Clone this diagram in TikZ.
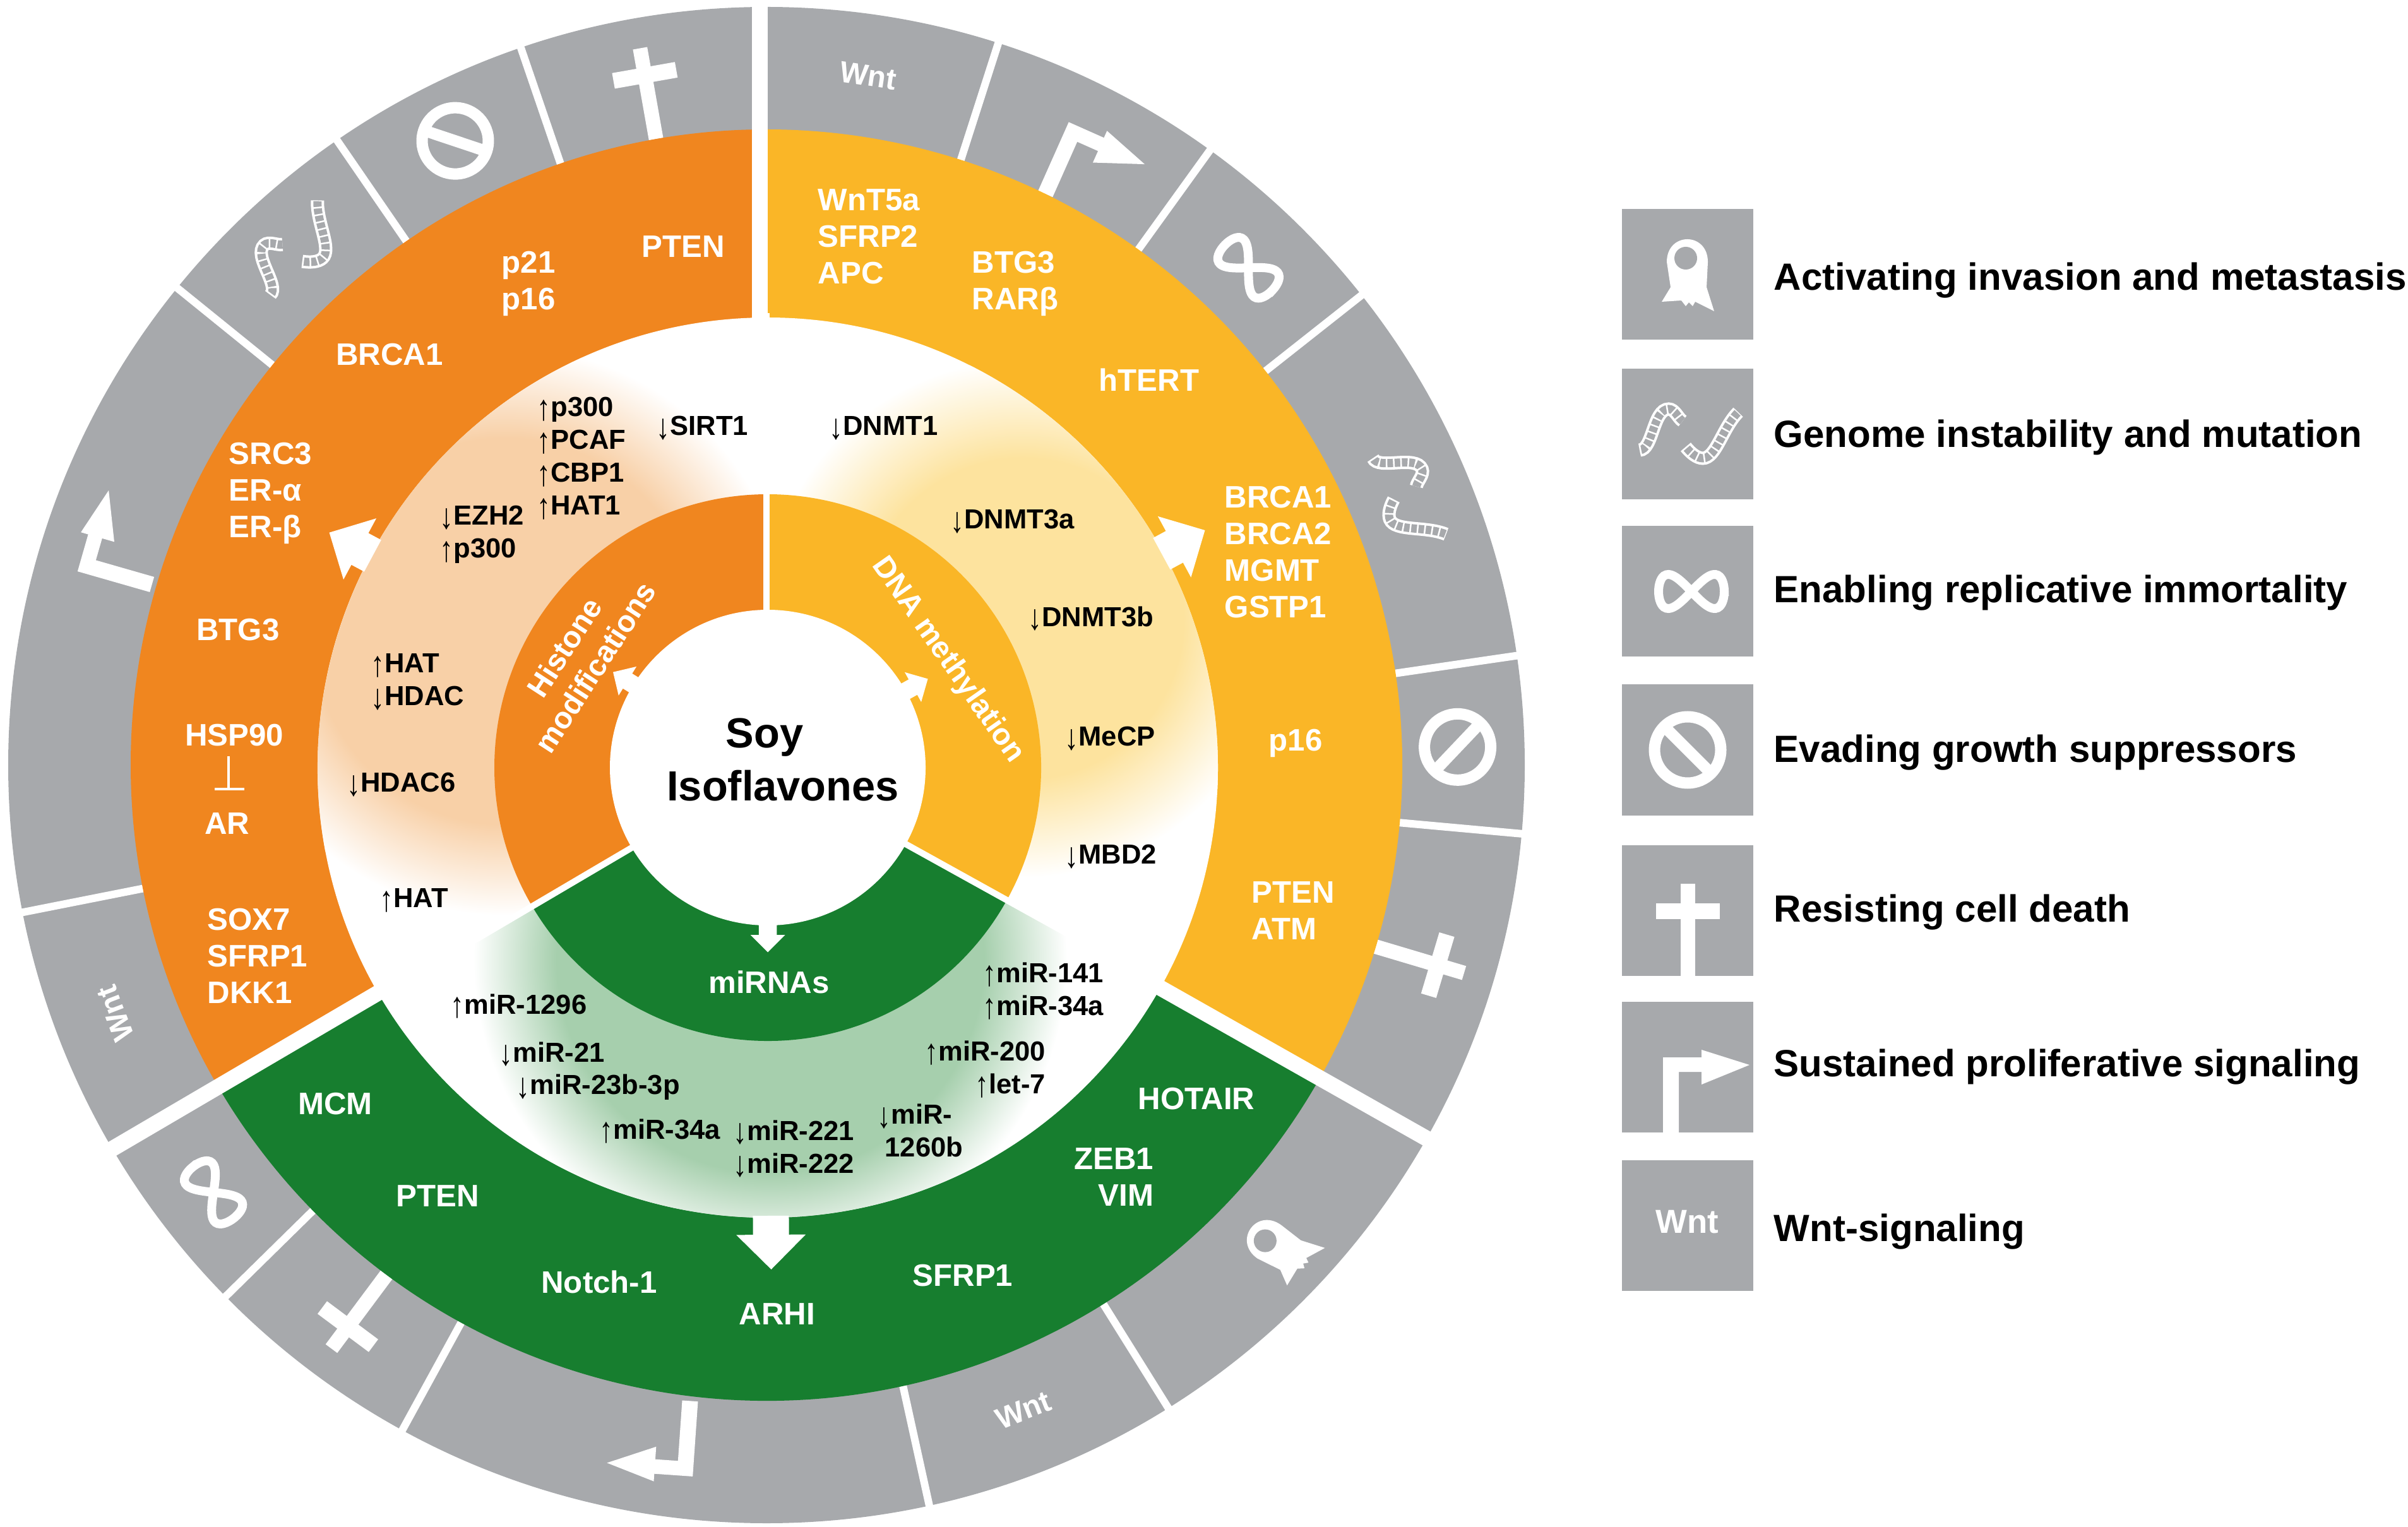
\documentclass[tikz,border=0pt]{standalone}
\usepackage{fontspec}
\setmainfont{Liberation Sans}

\definecolor{orangeRing}{HTML}{F0861F}
\definecolor{yellowRing}{HTML}{FAB627}
\definecolor{greenRing}{HTML}{177E2F}
\definecolor{greyRing}{HTML}{A7A9AC}
\definecolor{paleOrange}{HTML}{F8D0A7}
\definecolor{paleYellow}{HTML}{FDE39E}
\definecolor{paleGreen}{HTML}{A6CFAD}

\pgfdeclareradialshading{orangeblob}{\pgfpoint{0bp}{0bp}}{color(0bp)=(paleOrange); color(17bp)=(paleOrange); color(25bp)=(white); color(50bp)=(white)}
\pgfdeclareradialshading{yellowblob}{\pgfpoint{0bp}{0bp}}{color(0bp)=(paleYellow); color(15.5bp)=(paleYellow); color(25bp)=(white); color(50bp)=(white)}
\pgfdeclareradialshading{greenblob}{\pgfpoint{0bp}{0bp}}{color(0bp)=(paleGreen); color(18bp)=(paleGreen); color(25bp)=(white); color(50bp)=(white)}

\newcommand{\upa}{{\mdseries\raisebox{-.25ex}{\scalebox{1}[1.3]{↑}}}}
\newcommand{\dna}{{\mdseries\raisebox{-.25ex}{\scalebox{1}[1.3]{↓}}}}
\newcommand{\spoke}[4]{\fill[white,rotate=#1] (-#4*.285,#2) -- (-#4*.285,#3) -- (-#4*.55,#3) -- (0,#3+#4*.55) -- (#4*.55,#3) -- (#4*.285,#3) -- (#4*.285,#2) -- cycle;}
\newcommand{\strand}[1]{
	\draw[white,line width=.21cm] #1;
	\draw[greyRing,line width=.13cm] #1;
	\draw[white,line width=.14cm,dash pattern=on .025cm off .09cm] #1;
}

\tikzset{
	ringpart/.style n args={4}{insert path={(#1:#3) arc[start angle=#1,end angle=#2,radius=#3] -- (#2:#4) arc[start angle=#2,end angle=#1,radius=#4] -- cycle}},
	gene/.style={text=white,inner sep=0pt,align=left,font=\fontsize{14}{16.5}\selectfont\bfseries},
	target/.style={text=black,inner sep=0pt,align=left,yshift=-.03cm,font=\fontsize{12.4}{14.8}\selectfont\bfseries},
	wntmark/.style={text=white,inner sep=0pt,font=\fontsize{13.5}{16}\selectfont\bfseries},
	legendbox/.style={fill=greyRing,minimum width=2.08cm,minimum height=2.07cm,inner sep=0pt},
	legendtext/.style={text=black,inner sep=0pt,anchor=west,font=\fontsize{17.1}{20}\selectfont\bfseries},
	sepline/.style={draw=white,line width=.12cm},
	crossicon/.pic={
		\fill[white] (-.115,-1.04) rectangle (.115,.42);
		\fill[white] (-.505,-.14) rectangle (.505,.11);
	},
	stopicon/.pic={
		\draw[white,line width=.18cm] (0,0) circle (.525);
		\draw[white,line width=.18cm] (135:.525) -- (-45:.525);
	},
	infinityicon/.pic={
		\draw[white,line width=.14cm] plot[domain=0:360,samples=60,smooth] ({.52*cos(\x)},{.27*sin(2*\x)}) -- cycle;
	},
	growthicon/.pic={
		\fill[white] (-.39,-1.04) -- (-.39,.15) -- (.22,.15) -- (.22,.27) -- (.98,.03) -- (.22,-.28) -- (.22,-.08) -- (-.14,-.08) -- (-.14,-1.04) -- cycle;
	},
	cellicon/.pic={
		\fill[white] (-.41,-.43) -- (-.27,-.2) -- (-.33,.2) .. controls (-.33,.68) and (.32,.68) .. (.32,.2) -- (.3,-.2) -- (.42,-.58) -- (.12,-.43) -- (.08,-.5) -- (.02,-.44) -- (-.03,-.5) -- (-.1,-.41) -- cycle;
		\fill[greyRing] (-.03,.26) circle (.18);
	},
	dnaicon/.pic={
		\strand{(-.76,-.25) .. controls (-.55,-.25) and (-.55,.4) .. (-.3,.4) .. controls (-.2,.4) and (-.15,.25) .. (-.08,.21)}
		\strand{(-.03,-.2) .. controls (.05,-.3) and (.15,-.38) .. (.24,-.38) .. controls (.45,-.38) and (.55,.1) .. (.8,.35)}
	}
}

\begin{document}
\begin{tikzpicture}
	\useasboundingbox (0,0) rectangle (38.14,24.18);

	% outer grey ring with the hallmark icons
	\begin{scope}[shift={(12.14,12.06)}]
		\fill[greyRing] (0,0) circle (12.01);

		\pic[rotate=10] at (100:11.11) {crossicon};
		\pic[rotate=26.5] at (116.5:11.05) {stopicon};
		\pic[rotate=42.5] at (132.5:11.05) {dnaicon};
		\pic[rotate=74] at (162.3:11.19) {growthicon};
		\node[wntmark,rotate=110.9] (WntLeft) at (200.9:11.04) {Wnt};
		\pic[rotate=127.7] at (217.7:11.07) {infinityicon};
		\pic[rotate=143.3] at (233.3:11.11) {crossicon};
		\pic[rotate=176] at (262.06:11.2) {growthicon};
		\node[wntmark,rotate=21.7] (WntBottom) at (-68.3:11.0) {Wnt};
		\pic[rotate=55] at (-43.3:11.17) {cellicon};
		\pic[rotate=-106.6] at (-16.6:11.11) {crossicon};
		\pic[rotate=-88.5] at (1.5:10.95) {stopicon};
		\pic[rotate=-67.2] at (22.8:10.99) {dnaicon};
		\pic[rotate=-44.1] at (45.9:10.97) {infinityicon};
		\pic[rotate=-24] at (62.8:11.12) {growthicon};
		\node[wntmark,rotate=-8.4] (WntTop) at (81.6:11.04) {Wnt};

		\draw[sepline] (108.9:10) -- (108.9:12.1);
		\draw[sepline] (124.5:10) -- (124.5:12.1);
		\draw[sepline] (141:10) -- (141:12.1);
		\draw[sepline] (191.2:10) -- (191.2:12.1);
		\draw[sepline] (224.5:10) -- (224.5:12.1);
		\draw[sepline] (241.3:10) -- (241.3:12.1);
		\draw[sepline] (-77.6:10) -- (-77.6:12.1);
		\draw[sepline] (-58:10) -- (-58:12.1);
		\draw[sepline] (-5.2:10) -- (-5.2:12.1);
		\draw[sepline] (8.3:10) -- (8.3:12.1);
		\draw[sepline] (38.3:10) -- (38.3:12.1);
		\draw[sepline] (54.2:10) -- (54.2:12.1);
		\draw[sepline] (72.2:10) -- (72.2:12.1);

		% gene ring
		\fill[orangeRing] (0,0) -- (90:10.07) arc[start angle=90,end angle=210.4,radius=10.07] -- cycle;
		\fill[yellowRing] (0,0) -- (-29.5:10.07) arc[start angle=-29.5,end angle=90,radius=10.07] -- cycle;
		\fill[greenRing] (0,0) -- (210.4:10.07) arc[start angle=210.4,end angle=330.5,radius=10.07] -- cycle;
	\end{scope}

	% epigenetic targets and inner ring
	\begin{scope}[shift={(12.16,12.02)}]
		\fill[white] (0,0) circle (7.13);
		\begin{scope}
			\clip[ringpart={90}{210.4}{4.3}{7.13}];
			\shade[shading=orangeblob] (-4.16,2.16) circle (4.5);
		\end{scope}
		\begin{scope}
			\clip[ringpart={-29.5}{90}{4.3}{7.13}];
			\shade[shading=yellowblob] (4.04,2.36) circle (4.1);
		\end{scope}
		\begin{scope}
			\clip[ringpart={210.4}{330.5}{4.3}{7.13}];
			\shade[shading=greenblob] (.04,-3.04) circle (4.7);
		\end{scope}

		\fill[orangeRing] (0,0) -- (90:4.33) arc[start angle=90,end angle=210.4,radius=4.33] -- cycle;
		\fill[yellowRing] (0,0) -- (-29.5:4.33) arc[start angle=-29.5,end angle=90,radius=4.33] -- cycle;
		\fill[greenRing] (0,0) -- (210.4:4.33) arc[start angle=210.4,end angle=330.5,radius=4.33] -- cycle;
		\fill[white] (0,0) circle (2.5);

		\draw[white,line width=.1cm] (-.02,2.4) -- (-.02,7.2);
		\draw[white,line width=.1cm] (-29:2.4) -- (-29:5.6);
		\draw[white,line width=.1cm] (210.5:2.4) -- (210.5:5.6);
	\end{scope}

	% wide gaps between the three sectors
	\begin{scope}[shift={(12.14,12.06)}]
		\draw[white,line width=.25cm] (-.11,7) -- (-.11,12.3);
		\draw[white,line width=.25cm] (-29.5:7) -- (-29.5:12.3);
		\draw[white,line width=.25cm] (210.4:7) -- (210.4:12.3);
	\end{scope}

	\begin{scope}[shift={(12.16,12.02)}]
		\spoke{61.8}{7.1}{7.33}{1}
		\spoke{-61.5}{7.1}{7.33}{1}
		\spoke{-179.6}{7.1}{7.4}{1}
		\spoke{58.3}{2.4}{2.61}{.49}
		\spoke{-61}{2.4}{2.63}{.49}
		\spoke{180}{2.4}{2.65}{.5}
	\end{scope}

	\node[font=\fontsize{19}{22}\selectfont\bfseries,inner sep=0pt] (Soy) at (12.11,12.50) {Soy};
	\node[font=\fontsize{19}{22}\selectfont\bfseries,inner sep=0pt] (Isoflavones) at (12.40,11.73) {Isoflavones};

	\node[gene,rotate=57,align=center,font=\fontsize{13.6}{16.5}\selectfont\bfseries] (Histone) at (9.18,13.77) {Histone\\modifications};
	\node[gene,rotate=-55,font=\fontsize{13.6}{16.5}\selectfont\bfseries] (Methylation) at (15.01,13.72) {DNA methylation};
	\node[gene] (MiRNAs) at (12.18,8.62) {miRNAs};

	% histone genes
	\node[gene] (PTENhist) at (10.82,20.27) {PTEN};
	\node[gene] (PhistGroup) at (8.37,19.69) {p21\\p16};
	\node[gene] (BRCAhist) at (6.17,18.56) {BRCA1};
	\node[gene,anchor=west] (SRCgroup) at (3.62,16.37) {SRC3\\ER-α\\ER-β};
	\node[gene] (BTGhist) at (3.77,14.20) {BTG3};
	\node[gene] (HSP) at (3.71,12.53) {HSP90};
	\node[gene] (AR) at (3.60,11.13) {AR};
	\draw[white,line width=.04cm] (3.62,12.20) -- (3.62,11.68);
	\draw[white,line width=.04cm] (3.40,11.68) -- (3.87,11.68);
	\node[gene,anchor=west] (SOXgroup) at (3.28,9.04) {SOX7\\SFRP1\\DKK1};

	% methylation genes
	\node[gene,anchor=west] (WntGroup) at (12.95,20.43) {WnT5a\\SFRP2\\APC};
	\node[gene,anchor=west] (BTGmeth) at (15.39,19.69) {BTG3\\RARβ};
	\node[gene] (HTERT) at (18.20,18.16) {hTERT};
	\node[gene,anchor=west] (BRCAmeth) at (19.39,15.43) {BRCA1\\BRCA2\\MGMT\\GSTP1};
	\node[gene] (Pmeth) at (20.52,12.41) {p16};
	\node[gene,anchor=west] (PTENmeth) at (19.82,9.75) {PTEN\\ATM};

	% miRNA genes
	\node[gene] (HOTAIR) at (18.95,6.77) {HOTAIR};
	\node[gene,anchor=east,align=right] (ZEBgroup) at (18.28,5.53) {ZEB1\\VIM};
	\node[gene] (SFRPmir) at (15.25,3.97) {SFRP1};
	\node[gene] (ARHI) at (12.31,3.36) {ARHI};
	\node[gene] (Notch) at (9.49,3.87) {Notch-1};
	\node[gene] (PTENmir) at (6.93,5.23) {PTEN};
	\node[gene] (MCM) at (5.31,6.69) {MCM};

	% targets
	\node[target,anchor=west] (HATone) at (8.50,16.95) {\upa p300\\\upa PCAF\\\upa CBP1\\\upa HAT1};
	\node[target,anchor=west] (SIRT) at (10.39,17.43) {\dna SIRT1};
	\node[target,anchor=west] (EZH) at (6.96,15.74) {\dna EZH2\\\upa p300};
	\node[target,anchor=west] (HATtwo) at (5.87,13.41) {\upa HAT\\\dna HDAC};
	\node[target,anchor=west] (HDACsix) at (5.49,11.78) {\dna HDAC6};
	\node[target,anchor=west] (HATthree) at (6.01,9.95) {\upa HAT};
	\node[target,anchor=west] (DNMTone) at (13.13,17.43) {\dna DNMT1};
	\node[target,anchor=west] (DNMTa) at (15.05,15.95) {\dna DNMT3a};
	\node[target,anchor=west] (DNMTb) at (16.28,14.41) {\dna DNMT3b};
	\node[target,anchor=west] (MeCP) at (16.86,12.51) {\dna MeCP};
	\node[target,anchor=west] (MBD) at (16.86,10.64) {\dna MBD2};
	\node[target,anchor=west] (MirOneFour) at (15.56,8.51) {\upa miR-141\\\upa miR-34a};
	\node[target,anchor=west] (MirTwoHundred) at (14.64,7.53) {\upa miR-200};
	\node[target,anchor=west] (Let) at (15.44,7.01) {\upa let-7};
	\node[target,anchor=west] (MirLong) at (13.89,6.30) {\dna miR-\\\hspace{.12cm}1260b};
	\node[target,anchor=west] (MirTwoTwo) at (11.61,6.01) {\dna miR-221\\\dna miR-222};
	\node[target,anchor=west] (MirThreeFour) at (9.49,6.29) {\upa miR-34a};
	\node[target,anchor=west] (MirTwentyThree) at (8.17,6.99) {\dna miR-23b-3p};
	\node[target,anchor=west] (MirTwentyOne) at (7.90,7.51) {\dna miR-21};
	\node[target,anchor=west] (MirTwelve) at (7.13,8.27) {\upa miR-1296};

	% legend
	\node[legendbox] (BoxInvasion) at (26.73,19.83) {};
	\node[legendbox] (BoxGenome) at (26.73,17.30) {};
	\node[legendbox] (BoxImmortal) at (26.73,14.81) {};
	\node[legendbox] (BoxSuppress) at (26.73,12.30) {};
	\node[legendbox] (BoxDeath) at (26.73,9.76) {};
	\node[legendbox] (BoxGrowth) at (26.73,7.28) {};
	\node[legendbox] (BoxWnt) at (26.73,4.77) {};

	\pic at (BoxInvasion) {cellicon};
	\pic at (BoxGenome) {dnaicon};
	\pic at (26.79,14.81) {infinityicon};
	\pic at (BoxSuppress) {stopicon};
	\pic at (BoxDeath) {crossicon};
	\pic at (BoxGrowth) {growthicon};
	\node[wntmark,font=\fontsize{15}{18}\selectfont\bfseries] (WntLegend) at (26.72,4.82) {Wnt};

	\node[legendtext] (TextInvasion) at (28.09,19.74) {Activating invasion and metastasis};
	\node[legendtext] (TextGenome) at (28.09,17.25) {Genome instability and mutation};
	\node[legendtext] (TextImmortal) at (28.09,14.79) {Enabling replicative immortality};
	\node[legendtext] (TextSuppress) at (28.09,12.26) {Evading growth suppressors};
	\node[legendtext] (TextDeath) at (28.09,9.73) {Resisting cell death};
	\node[legendtext] (TextGrowth) at (28.09,7.28) {Sustained proliferative signaling};
	\node[legendtext] (TextWnt) at (28.09,4.67) {Wnt-signaling};
\end{tikzpicture}
\end{document}
